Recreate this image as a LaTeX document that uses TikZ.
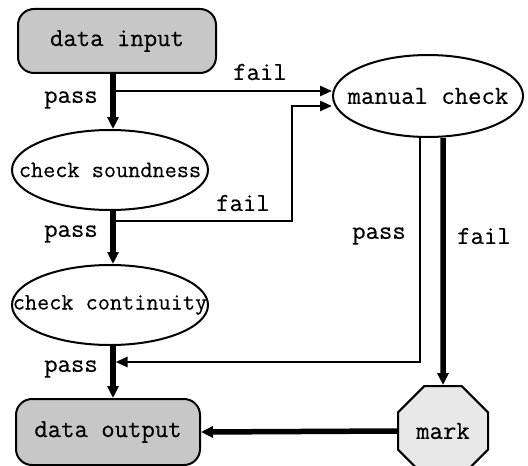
\documentclass[tikz,border=0pt]{standalone}
\usepackage{fontspec}
\setmonofont{Latin Modern Mono}[FakeBold=0.4]
\usepackage{tikz}
\usetikzlibrary{shapes.geometric,arrows.meta,positioning}
\tikzset{
  box/.style={rectangle, draw, line width=1pt, rounded corners=8pt, fill=black!22, minimum width=99pt, minimum height=32pt, inner sep=0pt, font=\fontsize{13}{15}\selectfont\ttfamily},
  oval/.style={ellipse, draw, line width=1pt, fill=white, inner sep=0pt, minimum width=98pt, minimum height=40pt, font=\fontsize{11.8}{13}\selectfont\ttfamily},
  octa/.style={regular polygon, regular polygon sides=8, draw, line width=1pt, fill=black!9, minimum size=48.7pt, inner sep=0pt, font=\fontsize{13}{15}\selectfont\ttfamily},
  lbl/.style={inner sep=0pt, font=\fontsize{13}{15}\selectfont\ttfamily},
  thickarr/.style={-{Triangle[length=6pt,width=5.5pt]}, line width=2.75pt},
  thinarr/.style={-{Triangle[length=6pt,width=5pt]}, line width=1.35pt}
}

\begin{document}
\begin{tikzpicture}[x=0.5pt,y=-0.5pt]
\useasboundingbox (0,0) rectangle (528,465);

\node[box] (in) at (117,41) {data input};
\node[oval] (snd) at (110,170) {\makebox[0pt]{check soundness}};
\node[oval] (cont) at (110,305) {\makebox[0pt]{check continuity}};
\node[box, minimum width=92pt, minimum height=33pt] (out) at (108,432) {data output};
\node[oval, minimum width=95pt, minimum height=41pt, font=\fontsize{13}{15}\selectfont\ttfamily] (mc) at (428,96) {\makebox[0pt]{manual check}};
\node[octa] (mark) at (443,431) {mark};

\coordinate (col) at (113,0);
\coordinate (b1) at (113,91);
\coordinate (b2) at (113,221);
\coordinate (k2) at (292,106);
\coordinate (b3) at (113,362);

\draw[thickarr] (in.south -| col) -- (snd.north -| col);
\draw[thinarr] (b1) -- (b1 -| mc.west);
\draw[thickarr] (snd.south -| col) -- (cont.north -| col);
\draw[thinarr] (b2) -| (k2) -- (k2 -| mc.west);
\draw[thickarr] (cont.south -| col) -- (out.north -| col);
\draw[thinarr, shorten >=1.3pt] ([xshift=-4pt]mc.south) |- (b3);
\draw[thickarr] ([xshift=7.5pt]mc.south) -- (mark.north);
\draw[thickarr] (mark.west) -- (out.east);

\node[lbl] (p1) at (71,100) {pass};
\node[lbl] (f1) at (260,72) {fail};
\node[lbl] (f2) at (243,203) {fail};
\node[lbl] (p2) at (71,234) {pass};
\node[lbl] (p3) at (379,236) {pass};
\node[lbl] (f3) at (484,236) {fail};
\node[lbl] (p4) at (71,369) {pass};
\end{tikzpicture}
\end{document}
